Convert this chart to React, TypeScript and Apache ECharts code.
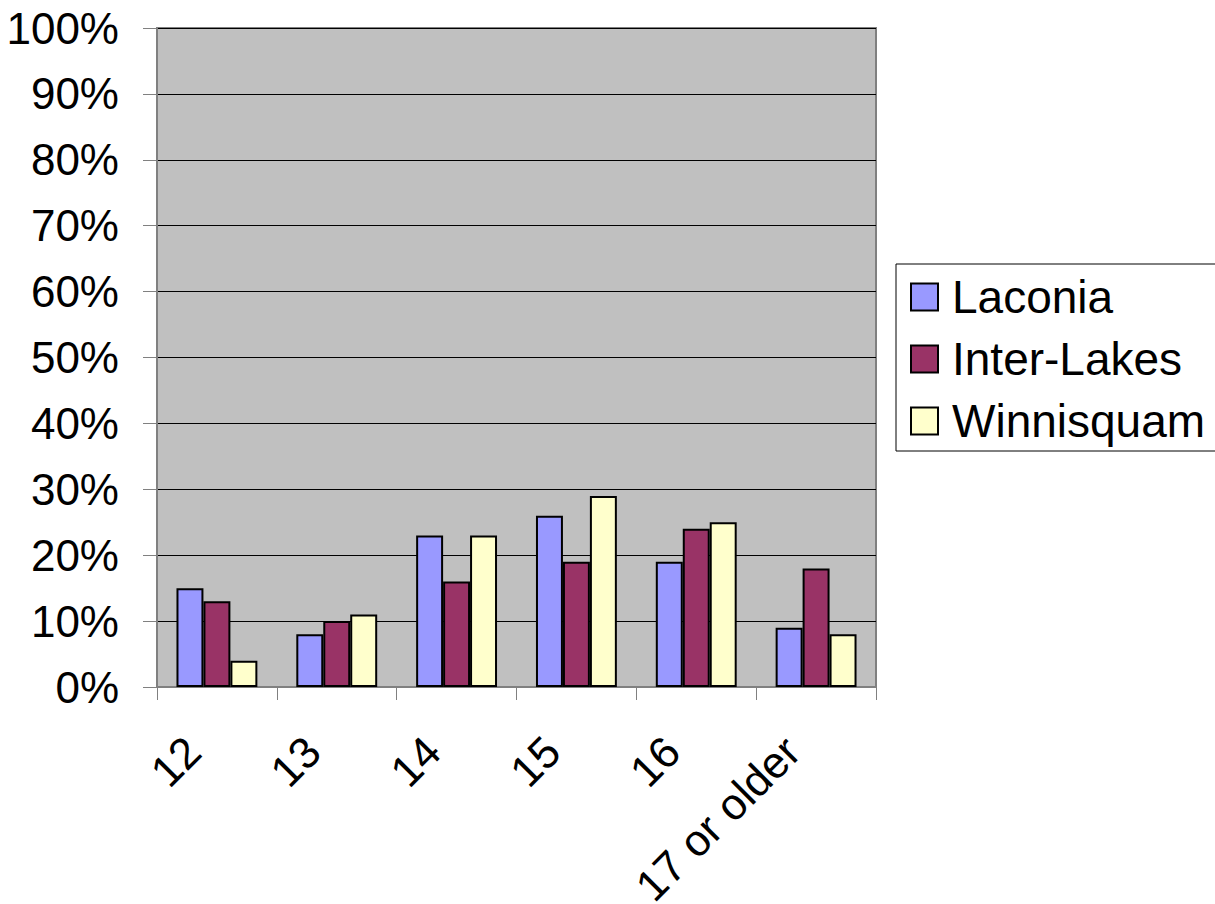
import React, { useEffect, useRef } from "react";
import * as echarts from "echarts";

const categories = ["12", "13", "14", "15", "16", "17 or older"];
const laconia = [15, 8, 23, 26, 19, 9];
const interLakes = [13, 10, 16, 19, 24, 18];
const winnisquam = [4, 11, 23, 29, 25, 8];
const seriesNames = ["Laconia", "Inter-Lakes", "Winnisquam"];
const seriesColors = ["#9999FF", "#993366", "#FFFFCC"];

const FONT = "Arial, 'Liberation Sans', sans-serif";

export default function App() {
  const ref = useRef<HTMLDivElement>(null);
  useEffect(() => {
    if (!ref.current) return;
    const chart = echarts.init(ref.current, undefined, { renderer: "svg" });
    const data = [laconia, interLakes, winnisquam];
    chart.setOption({
      animation: false,
      backgroundColor: "#FFFFFF",
      textStyle: { fontFamily: FONT },
      grid: {
        left: 157,
        top: 28,
        width: 719,
        height: 659,
        show: true,
        backgroundColor: "#C0C0C0",
        borderColor: "#808080",
        borderWidth: 2,
        containLabel: false,
        outerBoundsMode: "none",
      },
      legend: {
        orient: "vertical",
        left: 896,
        top: 264,
        padding: [10, 13, 7, 14],
        itemWidth: 27,
        itemHeight: 27,
        itemGap: 16,
        icon: "rect",
        backgroundColor: "#FFFFFF",
        borderColor: "#000000",
        borderWidth: 1,
        borderRadius: 0,
        textStyle: { fontSize: 46, color: "#000", fontFamily: FONT, padding: [0, 0, 0, 9] },
        data: seriesNames,
      },
      xAxis: {
        type: "category",
        data: categories,
        axisLine: { show: true, lineStyle: { color: "#808080", width: 2 } },
        axisTick: { show: true, length: 13, lineStyle: { color: "#808080", width: 1 } },
        axisLabel: {
          rotate: 45,
          fontSize: 44,
          color: "#000",
          fontFamily: FONT,
          margin: 33,
          padding: [0, 34, 0, 0],
          interval: 0,
        },
        splitLine: { show: false },
      },
      yAxis: {
        type: "value",
        min: 0,
        max: 100,
        interval: 10,
        axisLine: { show: true, lineStyle: { color: "#808080", width: 2 } },
        axisTick: { show: true, length: 14, lineStyle: { color: "#808080", width: 1 } },
        axisLabel: {
          formatter: "{value}%",
          fontSize: 44,
          color: "#000",
          fontFamily: FONT,
          margin: 38,
        },
        splitLine: { show: true, lineStyle: { color: "#000000", width: 1 } },
      },
      series: seriesNames.map((name, i) => ({
        name,
        type: "bar",
        data: data[i],
        barGap: "0%",
        barCategoryGap: "32.5%",
        itemStyle: { color: seriesColors[i], borderColor: "#000000", borderWidth: 2 },
      })),
    });
    return () => chart.dispose();
  }, []);
  return (
    <div
      ref={ref}
      style={{ position: "fixed", left: 0, top: 0, width: 1215, height: 904 }}
    />
  );
}
